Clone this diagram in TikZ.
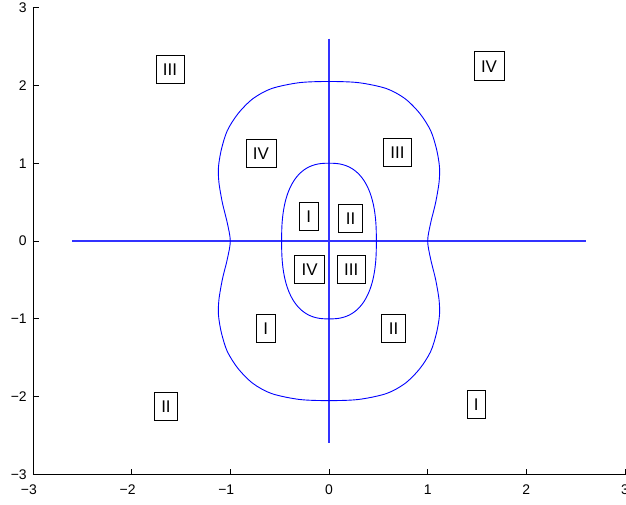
\documentclass[tikz,border=0pt]{standalone}
\usepackage{fontspec}
\setmainfont{Liberation Sans}
\begin{document}
\begin{tikzpicture}[x=98.67bp,y=77.83bp,
  bluecurve/.style={draw={rgb,255:red,0;green,0;blue,255}, line width=0.9bp},
  crossline/.style={draw={rgb,255:red,50;green,50;blue,255}, line width=1.2bp},
  axisline/.style={draw=black, line width=0.8bp},
  region/.style={draw=black, line width=0.8bp, font=\fontsize{17}{20}\selectfont,
    text height=12.2bp, text depth=0pt, inner xsep=7bp, inner ysep=8bp},
  ticklabel/.style={font=\fontsize{14}{16}\selectfont, inner sep=0pt}]
\useasboundingbox (-3.334,-3.379) rectangle (3.010,3.097);
% axes
\coordinate (O) at (-3,-3);
\coordinate (XE) at (3,-3);
\coordinate (YE) at (-3,3);
\draw[axisline] (YE) -- (O) -- (XE);
\foreach \v in {-3,...,3} {
  \coordinate (xt\v) at (\v,-3);
  \coordinate (yt\v) at (-3,\v);
  \draw[axisline] (xt\v) -- ++(0,6bp);
  \draw[axisline] (yt\v) -- ++(6bp,0);
}
\foreach \v/\a in {-3/3,-2/2,-1/1} {
  \node[ticklabel, anchor=north, yshift=-10bp] (xl\a m) at (xt\v) {\llap{−}\a};
  \node[ticklabel, anchor=east, xshift=-6bp] (yl\a m) at (yt\v) {−\a};
}
\foreach \v in {0,1,2,3} {
  \node[ticklabel, anchor=north, yshift=-10bp] (xl\v) at (xt\v) {\v};
  \node[ticklabel, anchor=east, xshift=-6bp] (yl\v) at (yt\v) {\v};
}
% blue cross
\coordinate (hl) at (-2.6,0);
\coordinate (hr) at (2.6,0);
\coordinate (vt) at (0,2.6);
\coordinate (vb) at (0,-2.6);
\draw[crossline] (hl) -- (hr);
\draw[crossline] (vt) -- (vb);
% inner superellipse
\foreach \sx/\sy in {1/1,-1/1,-1/-1,1/-1} {
  \draw[bluecurve, xscale=\sx, yscale=\sy] plot[domain=0:90, samples=60]
    ({0.48*pow(cos(\x)+0.00001,0.8)},{pow(sin(\x)+0.00001,0.8)});
}
% outer peanut
\draw[bluecurve] plot[smooth cycle, tension=0.5] coordinates {
  (1.0,0) (1.03,0.23) (1.08,0.49) (1.115,0.75) (1.12,0.95) (1.09,1.18) (1.03,1.42) (0.92,1.64) (0.77,1.83) (0.58,1.96) (0.3,2.035) (0,2.05)
  (-0.3,2.035) (-0.58,1.96) (-0.77,1.83) (-0.92,1.64) (-1.03,1.42) (-1.09,1.18) (-1.12,0.95) (-1.115,0.75) (-1.08,0.49) (-1.03,0.23) (-1.0,0)
  (-1.03,-0.23) (-1.08,-0.49) (-1.115,-0.75) (-1.12,-0.95) (-1.09,-1.18) (-1.03,-1.42) (-0.92,-1.64) (-0.77,-1.83) (-0.58,-1.96) (-0.3,-2.035) (0,-2.05)
  (0.3,-2.035) (0.58,-1.96) (0.77,-1.83) (0.92,-1.64) (1.03,-1.42) (1.09,-1.18) (1.12,-0.95) (1.115,-0.75) (1.08,-0.49) (1.03,-0.23)
};
% region labels
\node[region] (r1) at (-1.611,2.21) {III};
\node[region] (r2) at (1.622,2.25) {IV};
\node[region] (r3) at (-1.652,-2.12) {II};
\node[region] (r4) at (1.493,-2.10) {I};
\node[region] (r5) at (-0.689,1.13) {IV};
\node[region] (r6) at (0.694,1.137) {III};
\node[region] (r7) at (-0.205,0.32) {I};
\node[region] (r8) at (0.218,0.295) {II};
\node[region] (r9) at (-0.196,-0.364) {IV};
\node[region] (r10) at (0.226,-0.364) {III};
\node[region] (r11) at (-0.64,-1.118) {I};
\node[region] (r12) at (0.654,-1.124) {II};
\end{tikzpicture}
\end{document}
